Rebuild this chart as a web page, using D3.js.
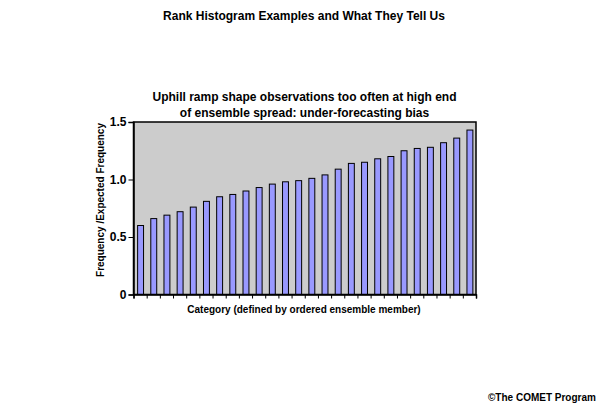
<!DOCTYPE html>
<html><head><meta charset="utf-8">
<script src="https://cdn.jsdelivr.net/npm/d3@7"></script>
<style>body{margin:0;background:#fff}svg{display:block;font-family:"Liberation Sans",Arial,sans-serif}</style>
</head><body>
<script>
const categories = d3.range(1, 27);
const values = [0.60,0.66,0.69,0.72,0.76,0.81,0.85,0.87,0.90,0.93,0.96,0.98,0.99,1.01,1.04,1.09,1.14,1.15,1.18,1.20,1.25,1.27,1.28,1.32,1.36,1.43];
const yTicks = [0, 0.5, 1.0, 1.5];
const yTickLabels = ["0", "0.5", "1.0", "1.5"];

const W = 612, H = 409;
const m = {left: 133.5, right: 476, top: 122, bottom: 294.5};
const svg = d3.select("body").append("svg").attr("width", W).attr("height", H);

const x = d3.scaleBand().domain(categories).range([m.left, m.right]).paddingInner(0.55).paddingOuter(0.275);
const y = d3.scaleLinear().domain([0, 1.5]).range([m.bottom, m.top]);

svg.append("rect").attr("x", m.left).attr("y", m.top).attr("width", m.right - m.left).attr("height", m.bottom - m.top).attr("fill", "#cccccc");

svg.selectAll("rect.bar").data(values).join("rect").attr("class", "bar")
  .attr("x", (d, i) => x(categories[i]) + 0.5)
  .attr("y", d => y(d))
  .attr("width", x.bandwidth())
  .attr("height", d => y(0) - y(d))
  .attr("fill", "#9999ff").attr("stroke", "#000").attr("stroke-width", 1);

// frame
svg.append("rect").attr("x", m.left).attr("y", m.top).attr("width", m.right - m.left).attr("height", m.bottom - m.top)
  .attr("fill", "none").attr("stroke", "#000").attr("stroke-width", 1.5);

// y axis
const yAxis = d3.axisLeft(y).tickValues(yTicks).tickFormat((d, i) => yTickLabels[i]).tickSize(5).tickPadding(2);
const gy = svg.append("g").attr("transform", `translate(${m.left},0)`).call(yAxis);
gy.select(".domain").attr("stroke-width", 1.5);
gy.selectAll("text").attr("font-size", 12).attr("font-weight", "bold").attr("fill", "#000").attr("font-family", "Liberation Sans, Arial, sans-serif");

// x axis ticks at category boundaries
const xb = d3.scaleLinear().domain([0, categories.length]).range([m.left, m.right]);
const xAxis = d3.axisBottom(xb).tickValues(d3.range(0, categories.length + 1)).tickFormat("").tickSize(4);
const gx = svg.append("g").attr("transform", `translate(0,${m.bottom})`).call(xAxis);
gx.select(".domain").attr("stroke-width", 1.5);

// titles
svg.append("text").attr("x", 304).attr("y", 20).attr("text-anchor", "middle").attr("font-size", 12).attr("font-weight", "bold")
  .text("Rank Histogram Examples and What They Tell Us");
svg.append("text").attr("x", 304.5).attr("y", 100.5).attr("text-anchor", "middle").attr("font-size", 12).attr("font-weight", "bold")
  .text("Uphill ramp shape observations too often at high end");
svg.append("text").attr("x", 304.5).attr("y", 116.5).attr("text-anchor", "middle").attr("font-size", 12).attr("font-weight", "bold")
  .text("of ensemble spread: under-forecasting bias");
svg.append("text").attr("x", 304).attr("y", 313).attr("text-anchor", "middle").attr("font-size", 10).attr("font-weight", "bold")
  .text("Category (defined by ordered ensemble member)");
svg.append("text").attr("transform", "translate(104,200) rotate(-90)").attr("text-anchor", "middle").attr("font-size", 10).attr("font-weight", "bold")
  .text("Frequency /Expected Frequency");
svg.append("text").attr("x", 488).attr("y", 401).attr("font-size", 10).attr("font-weight", "bold")
  .text("©The COMET Program");
</script>
</body></html>
